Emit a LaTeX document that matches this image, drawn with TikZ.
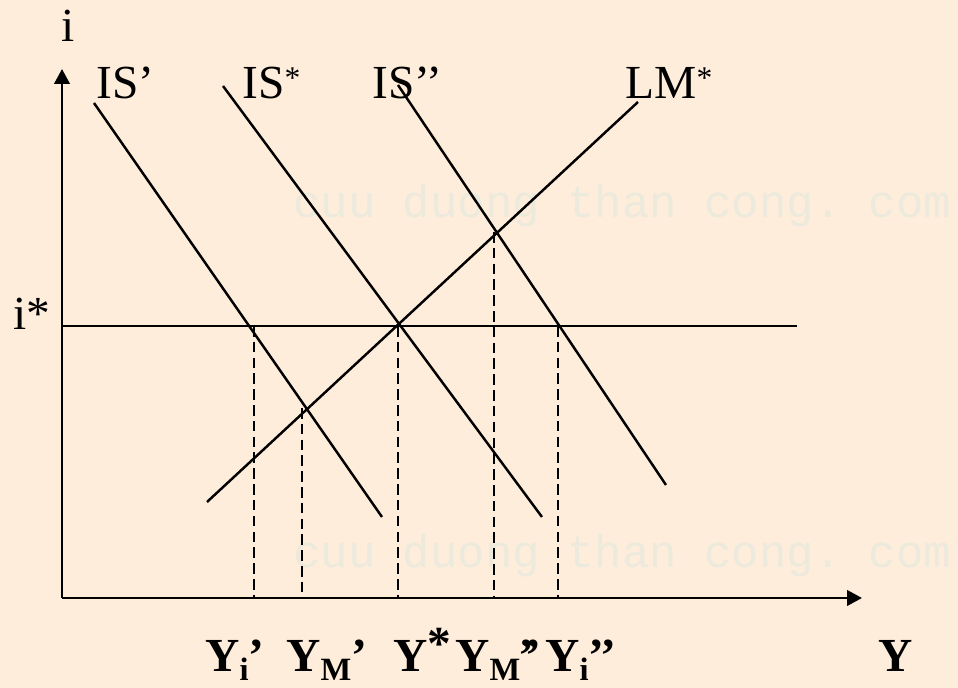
\documentclass[tikz,border=0pt]{standalone}
\usepackage{fontspec}
\setmainfont{Liberation Serif}
\setmonofont{Liberation Mono}
\definecolor{slidebg}{RGB}{255,237,219}
\definecolor{wmgray}{RGB}{236,234,221}
\usetikzlibrary{arrows.meta,positioning,calc}
\newcommand{\lsub}[1]{\raisebox{-0.17cm}{\fontsize{18.5}{20}\selectfont #1}}
\newcommand{\smstar}{\raisebox{6pt}{\fontsize{18}{18}\selectfont *}}

\begin{document}
\begin{tikzpicture}[
            x=0.02cm, y=-0.02cm,
            axis/.style={-{Triangle[length=0.3cm, width=0.31cm]}, line width=1.5pt},
            curve/.style={line width=1.4pt},
            guide/.style={line width=1.5pt, dash pattern=on 6pt off 3pt},
            lbl/.style={font=\fontsize{27}{30}\selectfont, inner sep=0pt, anchor=base west},
            ylbl/.style={lbl, font=\fontsize{27}{30}\selectfont\bfseries},
            wm/.style={font=\ttfamily\fontsize{26}{28}\selectfont, text=wmgray, inner sep=0pt, anchor=base west}
        ]
            % Background
            \fill[slidebg] (0,0) rectangle (958,688);
            \useasboundingbox (0,0) rectangle (958,688);
            
            % Watermark
            \node[wm] (wm1) at (293,218) {cuu duong than cong. com};
            \node[wm] (wm2) at (293,568) {cuu duong than cong. com};
            
            % Axes
            \coordinate (o) at (62,598);
            \coordinate (ytop) at (62,69);
            \coordinate (xend) at (862,598);
            \draw[axis] (o) -- (ytop);
            \draw[axis] (o) -- (xend);
            \node[lbl] (ilab) at (61,42) {i};
            \node[ylbl] (Ylab) at (878,672) {Y};
            
            % World interest rate
            \coordinate (hstart) at (62,326);
            \coordinate (hend) at (797,326);
            \draw[curve] (hstart) -- (hend);
            \node[lbl] (istar) at (13,330) {i*};
            
            % Curves
            \coordinate (is1a) at (94,103);
            \coordinate (is1b) at (382,517);
            \coordinate (is0a) at (223,86);
            \coordinate (is0b) at (542,517);
            \coordinate (is2a) at (398,85);
            \coordinate (is2b) at (666,485);
            \coordinate (lma) at (207,502);
            \coordinate (lmb) at (638,102);
            \draw[curve] (is1a) -- (is1b);
            \draw[curve] (is0a) -- (is0b);
            \draw[curve] (is2a) -- (is2b);
            \draw[curve] (lma) -- (lmb);
            
            % Curve labels
            \node[lbl] (is1lab) at (96,99) {IS’};
            \node[lbl] (is0lab) at (242,99) {IS\smstar};
            \node[lbl] (is2lab) at (372,99) {IS’’};
            \node[lbl] (lmlab) at (625,99) {LM\smstar};
            
            % Equilibrium points
            \coordinate (p1) at (254,326);
            \coordinate (p2) at (302,408);
            \coordinate (p3) at (398,326);
            \coordinate (p4) at (494,232);
            \coordinate (p5) at (558,326);
            \foreach \p in {p1,p2,p3,p4,p5}
                \draw[guide] (\p) -- (\p |- o);
            
            % Output labels
            \node[ylbl] (y1) at (205,672) {Y\lsub{i}’};
            \node[ylbl] (y2) at (286,672) {Y\lsub{M}’};
            \node[ylbl] (y3) at (393,672) {Y\raisebox{7pt}{*}};
            \node[ylbl] (y4) at (455,672) {Y\lsub{M}\kern-1pt’\kern-5pt’};
            \node[ylbl] (y5) at (545,672) {Y\lsub{i}’’};
        \end{tikzpicture}
\end{document}
